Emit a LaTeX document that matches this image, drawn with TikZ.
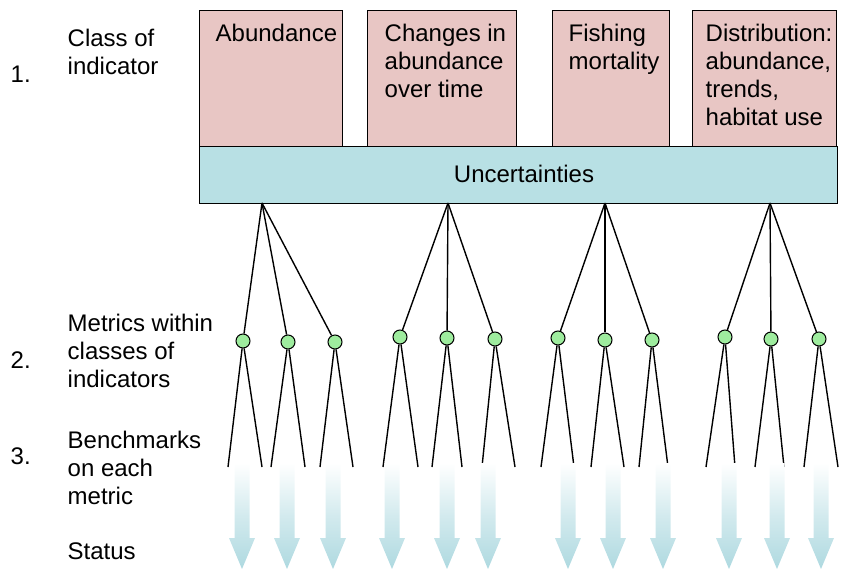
\documentclass[tikz,border=0pt]{standalone}
\usepackage{fontspec}
\setmainfont{Liberation Sans}
\usepackage{xcolor}
\usepackage{tikz}

\definecolor{classpink}{HTML}{E8C6C4}
\definecolor{uncblue}{HTML}{B8E0E4}
\definecolor{metricgreen}{HTML}{9EEC9E}
\definecolor{statusblue}{HTML}{AED9E0}

\begin{document}
\begin{tikzpicture}[x=1pt, y=-1pt, line width=1.4pt,
  every node/.style={inner sep=0pt, font=\fontsize{24}{28}\selectfont},
  classbox/.style={draw, fill=classpink, anchor=north west, minimum height=136pt},
  boxtext/.style={anchor=north west, align=left},
  metric/.style={circle, draw, fill=metricgreen, minimum size=14pt, line width=1pt},
  status/.style={top color=white, bottom color=statusblue, middle color=statusblue!55}]
  \useasboundingbox (0,0) rectangle (841,569);

  % row labels
  \node[anchor=north west] (n1) at (10,65) {1.};
  \node[anchor=north west] (n2) at (10,351) {2.};
  \node[anchor=north west] (n3) at (10,447) {3.};
  \node[boxtext] (lclass) at (67,28.5) {Class of\\indicator};
  \node[boxtext] (lmetric) at (67,313.5) {Metrics within\\classes of\\indicators};
  \node[boxtext] (lbench) at (67,430) {Benchmarks\\on each\\metric};
  \node[boxtext] (lstatus) at (67,542.5) {Status};

  % classes of indicator
  \node[classbox, minimum width=143pt] (c1) at (199,10) {};
  \node[classbox, minimum width=149pt] (c2) at (367,10) {};
  \node[classbox, minimum width=117pt] (c3) at (552,10) {};
  \node[classbox, minimum width=144pt] (c4) at (692,10) {};
  \node[boxtext] (t1) at (215,23.7) {Abundance};
  \node[boxtext] (t2) at (384,23.7) {Changes in\\abundance\\over time};
  \node[boxtext] (t3) at (568,23.7) {Fishing\\mortality};
  \node[boxtext] (t4) at (705,23.7) {Distribution:\\abundance,\\trends,\\habitat use};

  \node[draw, fill=uncblue, anchor=north west, minimum width=638pt, minimum height=57pt] (unc) at (199,146) {};
  \node[anchor=base] (unctext) at (524,183) {Uncertainties};

  \coordinate (r1) at (262,203);
  \coordinate (r2) at (448,203);
  \coordinate (r3) at (605,203);
  \coordinate (r4) at (770,203);

  % metrics and their benchmarks
  \foreach \m/\x/\y/\a/\b/\r in {1/243/341/228/262/1, 2/288/342/271/305/1, 3/335/342/320/353/1,
      4/400/337/383/418/2, 5/447/338/432/462/2, 6/495/339/482/515/2,
      7/558/338/541/574/3, 8/605/340/591/624/3, 9/652/340/639/668/3,
      10/725/337/706/735/4, 11/771/339/755/784/4, 12/819/339/804/838/4} {
    \node[metric] (m\m) at (\x,\y) {};
    \coordinate (ba\m) at (\a,467);
    \coordinate (bb\m) at (\b,467);
    \draw (r\r) -- (m\m);
    \draw (m\m) -- (ba\m);
    \draw (m\m) -- (bb\m);
  }

  % status arrows
  \foreach \x in {242,287,333,392,447,488,568,613,663,729,777,821}
    \shade[status] (\x-7.5,463) -- (\x+7.5,463) -- (\x+7.5,538) -- (\x+13,538)
      -- (\x,569) -- (\x-13,538) -- (\x-7.5,538) -- cycle;
\end{tikzpicture}
\end{document}
